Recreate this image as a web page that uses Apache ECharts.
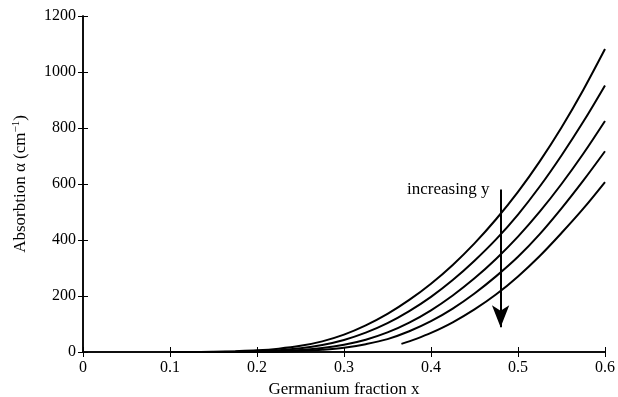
<!DOCTYPE html>
<html>
<head>
<meta charset="utf-8">
<script src="https://cdn.jsdelivr.net/npm/echarts@6/dist/echarts.min.js"></script>
<style>
  html, body { margin: 0; padding: 0; background: #fff; }
  #chart { width: 618px; height: 397px; }
</style>
</head>
<body>
<div id="chart"></div>
<script>
// germanium fraction samples (x) for the four long curves
const xFraction = [0.1, 0.125, 0.15, 0.175, 0.2, 0.225, 0.25, 0.275, 0.3, 0.325, 0.35,
  0.375, 0.4, 0.425, 0.45, 0.475, 0.5, 0.525, 0.55, 0.575, 0.6];
const curve1 = [0, 0, 1, 3, 6, 12, 22, 38, 62, 95, 136, 186, 244, 311, 388, 475, 572, 681, 802, 936, 1082];
const curve2 = [0, 0, 0, 1, 3, 6, 13, 25, 43, 69, 103, 146, 197, 257, 326, 403, 491, 591, 702, 822, 952];
const curve3 = [0, 0, 0, 0, 1, 3, 7, 14, 26, 44, 70, 105, 149, 202, 263, 333, 412, 501, 600, 708, 825];
const curve4 = [0, 0, 0, 0, 0, 1, 4, 8, 15, 28, 46, 74, 110, 155, 209, 271, 340, 421, 513, 612, 717];
// the lowest curve starts later
const xFraction5 = [0.366, 0.383, 0.4, 0.425, 0.45, 0.475, 0.5, 0.525, 0.55, 0.575, 0.6];
const curve5 = [29, 47, 68, 106, 152, 206, 270, 343, 425, 512, 607];

const xTicks = [0, 0.1, 0.2, 0.3, 0.4, 0.5, 0.6];
const yTicks = [0, 200, 400, 600, 800, 1000, 1200];

// arrow annotation
const arrowX = 0.48;
const arrowFrom = 580;
const arrowTo = 88;
const arrowText = 'increasing y';

const font = 'Liberation Serif';

const pairs = (xs, ys) => xs.map((x, i) => [x, ys[i]]);

const lineSeries = (data) => ({
  type: 'line',
  data: data,
  smooth: 0.35,
  showSymbol: false,
  lineStyle: { color: '#000', width: 2 },
  silent: true,
});

const axisCommon = {
  axisLine: { show: true, lineStyle: { color: '#000', width: 1.5 } },
  axisTick: { show: true, inside: true, length: 5, lineStyle: { color: '#000', width: 1 } },
  splitLine: { show: false },
};

const chart = echarts.init(document.getElementById('chart'));

const option = {
  animation: false,
  backgroundColor: '#fff',
  grid: {
    left: 83,
    right: 13,
    top: 16,
    bottom: 45,
    containLabel: false,
    outerBoundsMode: 'none',
  },
  xAxis: [
    {
      ...axisCommon,
      type: 'value',
      min: xTicks[0],
      max: xTicks[xTicks.length - 1],
      interval: 0.1,
      name: 'Germanium fraction x',
      nameLocation: 'middle',
      nameGap: 22,
      nameTextStyle: { fontFamily: font, fontSize: 17, color: '#000' },
      axisLabel: {
        color: '#000',
        fontFamily: font,
        fontSize: 16,
        margin: 8,
        formatter: (v) => (v === 0 ? '0' : v.toFixed(1)),
      },
    },
    {
      ...axisCommon,
      type: 'value',
      position: 'top',
      min: xTicks[0],
      max: xTicks[xTicks.length - 1],
      interval: 0.1,
      axisLabel: { show: false },
    },
  ],
  yAxis: [
    {
      ...axisCommon,
      type: 'value',
      min: yTicks[0],
      max: yTicks[yTicks.length - 1],
      interval: 200,
      name: 'Absorbtion α (cm{sup|−1})',
      nameLocation: 'middle',
      nameGap: 52,
      nameTextStyle: {
        fontFamily: font,
        fontSize: 17,
        color: '#000',
        rich: {
          sup: { fontFamily: font, fontSize: 11, color: '#000', verticalAlign: 'bottom', padding: [0, 0, 9, 0] },
        },
      },
      axisLabel: {
        color: '#000',
        fontFamily: font,
        fontSize: 16,
        margin: 7,
        formatter: (v) => String(v),
      },
    },
    {
      ...axisCommon,
      type: 'value',
      position: 'right',
      min: yTicks[0],
      max: yTicks[yTicks.length - 1],
      interval: 200,
      axisLabel: { show: false },
    },
  ],
  series: [
    lineSeries(pairs(xFraction, curve1)),
    lineSeries(pairs(xFraction, curve2)),
    lineSeries(pairs(xFraction, curve3)),
    lineSeries(pairs(xFraction, curve4)),
    {
      ...lineSeries(pairs(xFraction5, curve5)),
      markLine: {
        silent: true,
        symbol: ['none', 'arrow'],
        symbolSize: [13, 22],
        label: { show: false },
        lineStyle: { color: '#000', width: 2, type: 'solid' },
        data: [[{ coord: [arrowX, arrowFrom] }, { coord: [arrowX, arrowTo] }]],
      },
      markPoint: {
        silent: true,
        symbol: 'circle',
        symbolSize: 0,
        label: {
          show: true,
          position: 'left',
          distance: 11,
          color: '#000',
          fontFamily: font,
          fontSize: 17,
          formatter: arrowText,
        },
        data: [{ coord: [arrowX, arrowFrom] }],
      },
    },
  ],
};

chart.setOption(option);
</script>
</body>
</html>
